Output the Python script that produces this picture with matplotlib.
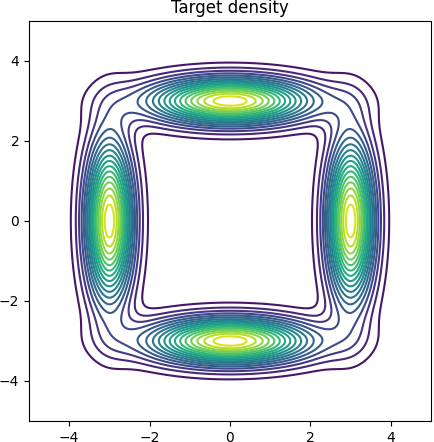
import numpy as np
import matplotlib
matplotlib.use("Agg")
import matplotlib.pyplot as plt

# mixture components: centres and standard deviations (x, y)
centres_x = [0.0, 0.0, 3.0, -3.0]
centres_y = [3.0, -3.0, 0.0, 0.0]
sigma_x = [1.4, 1.4, 0.4, 0.4]
sigma_y = [0.4, 0.4, 1.4, 1.4]
n_levels = 20

ticks = [-4, -2, 0, 2, 4]


def density(xx, yy):
    p = np.zeros_like(xx)
    for mx, my, sx, sy in zip(centres_x, centres_y, sigma_x, sigma_y):
        p += np.exp(-0.5 * (((xx - mx) / sx) ** 2 + ((yy - my) / sy) ** 2)) / (2 * np.pi * sx * sy)
    return p / len(centres_x)


def main():
    grid = np.linspace(-5, 5, 300)
    xx, yy = np.meshgrid(grid, grid)
    zz = density(xx, yy)

    fig = plt.figure(figsize=(4.34, 4.42), dpi=100)
    ax = fig.add_axes([29 / 434, 21 / 442, 402 / 434, 400 / 442])
    ax.contour(xx, yy, zz, levels=n_levels, cmap="viridis")
    ax.set_xlim(-5, 5)
    ax.set_ylim(-5, 5)
    ax.set_xticks(ticks)
    ax.set_yticks(ticks)
    ax.set_title("Target density")
    fig.savefig("out.png", dpi=100)


if __name__ == "__main__":
    main()
